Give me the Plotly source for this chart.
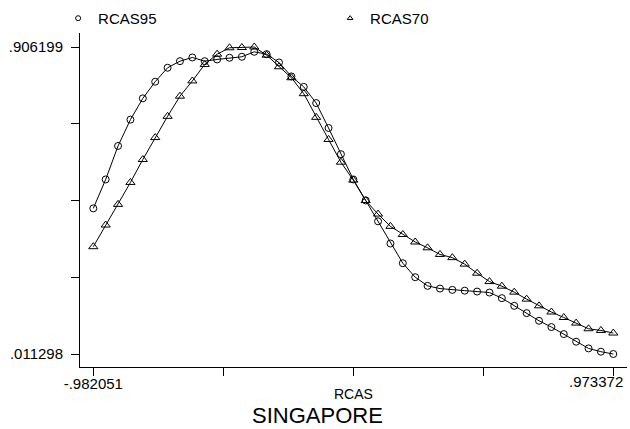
import plotly.graph_objects as go

# ---- data ----
rcas = [-0.982051, -0.935493, -0.888935, -0.842377, -0.795819, -0.749261, -0.702703,
        -0.656145, -0.609587, -0.563029, -0.516471, -0.469913, -0.423355, -0.376797,
        -0.330239, -0.283681, -0.237123, -0.190565, -0.144007, -0.097449, -0.050891,
        -0.004333, 0.042225, 0.088783, 0.135341, 0.181899, 0.228457, 0.275015,
        0.321573, 0.368131, 0.414689, 0.461247, 0.507805, 0.554363, 0.600921,
        0.647479, 0.694037, 0.740595, 0.787153, 0.833711, 0.880269, 0.926827, 0.973372]

rcas95 = [0.4358, 0.5201, 0.6178, 0.6945, 0.7565, 0.8050, 0.8457, 0.8649, 0.8757, 0.8649,
          0.8699, 0.8748, 0.8777, 0.8922, 0.8853, 0.8611, 0.8204, 0.7899, 0.7428, 0.6701,
          0.5937, 0.5201, 0.4590, 0.3980, 0.3334, 0.2759, 0.2352, 0.2099, 0.2020, 0.1982,
          0.1959, 0.1933, 0.1904, 0.1741, 0.1517, 0.1305, 0.1081, 0.0898, 0.0694, 0.0471,
          0.0276, 0.0180, 0.011298]

rcas70 = [0.3241, 0.3872, 0.4474, 0.5114, 0.5782, 0.6422, 0.7041, 0.7629, 0.8073, 0.8553,
          0.8853, 0.9039, 0.9047, 0.906199, 0.8824, 0.8486, 0.8166, 0.7701, 0.7012, 0.6367,
          0.5704, 0.5181, 0.4585, 0.4192, 0.3834, 0.3596, 0.3378, 0.3209, 0.3015, 0.2922,
          0.2733, 0.2468, 0.2224, 0.2090, 0.1916, 0.1712, 0.1517, 0.1337, 0.1177, 0.1014,
          0.0849, 0.0799, 0.0724]

y_min, y_max = 0.011298, 0.906199
x_min, x_max = -0.982051, 0.973372
y_ticks = [0.011298, 0.235023, 0.458749, 0.682474, 0.906199]
y_ticktext = [".011298", "", "", "", ".906199"]
x_ticks = [-0.982051, -0.493195, -0.004340, 0.484516, 0.973372]
x_ticktext = ["-.982051", "", "", "", ""]

FONT = "Liberation Sans, Arial, Helvetica, sans-serif"

fig = go.Figure()
fig.add_trace(go.Scatter(x=rcas, y=rcas95, mode="lines+markers", showlegend=False,
                         line=dict(color="black", width=1),
                         marker=dict(symbol="circle-open", size=7, color="black",
                                     line=dict(width=1, color="black"))))
fig.add_trace(go.Scatter(x=rcas, y=rcas70, mode="lines+markers", showlegend=False,
                         line=dict(color="black", width=1),
                         marker=dict(symbol="triangle-up-open", size=8, color="black",
                                     line=dict(width=1, color="black"))))
# legend entries (marker only)
fig.add_trace(go.Scatter(x=[None], y=[None], mode="markers", name="RCAS95",
                         marker=dict(symbol="circle-open", size=5, color="black",
                                     line=dict(width=1, color="black"))))
fig.add_trace(go.Scatter(x=[None], y=[None], mode="markers", name="RCAS70",
                         marker=dict(symbol="triangle-up-open", size=5, color="black",
                                     line=dict(width=1, color="black"))))

fig.update_layout(
    width=630, height=429,
    margin=dict(l=80, r=3, t=33, b=62, autoexpand=False),
    paper_bgcolor="white", plot_bgcolor="white",
    font=dict(family=FONT, color="black", size=15),
    legend=dict(orientation="h", x=-0.04, xanchor="left", y=1.093, yanchor="top",
                entrywidth=227, entrywidthmode="pixels", itemwidth=30,
                font=dict(size=15), bgcolor="rgba(0,0,0,0)"),
    xaxis=dict(range=[-1.03206, 1.02489], showgrid=False, zeroline=False,
               showline=True, linecolor="black", linewidth=1, automargin=False,
               ticks="outside", ticklen=8, tickcolor="black", tickwidth=1,
               tickvals=x_ticks, ticktext=x_ticktext, ticklabelstandoff=-5,
               tickfont=dict(size=15)),
    yaxis=dict(range=[-0.0266, 0.94701], showgrid=False, zeroline=False,
               showline=True, linecolor="black", linewidth=1, automargin=False,
               ticks="outside", ticklen=8, tickcolor="black", tickwidth=1,
               tickvals=y_ticks, ticktext=y_ticktext, ticklabelstandoff=5,
               tickfont=dict(size=15)),
    annotations=[
        dict(x=x_max, xref="x", y=0, yref="paper", yanchor="top", xanchor="right",
             xshift=12, yshift=-4, text=".973372", showarrow=False, font=dict(size=15)),
        dict(x=0.5, xref="paper", y=-0.0808, yref="paper", xanchor="center",
             yanchor="middle", text="RCAS", showarrow=False, font=dict(size=14),
             height=14, borderpad=0),
        dict(x=0.4333, xref="paper", y=-0.1437, yref="paper", xanchor="center",
             yanchor="middle", text="SINGAPORE", showarrow=False, font=dict(size=22),
             height=20, borderpad=0),
    ],
)

fig.write_html("out.html", config={"displayModeBar": False},
               post_script="document.body.style.margin='0';")
